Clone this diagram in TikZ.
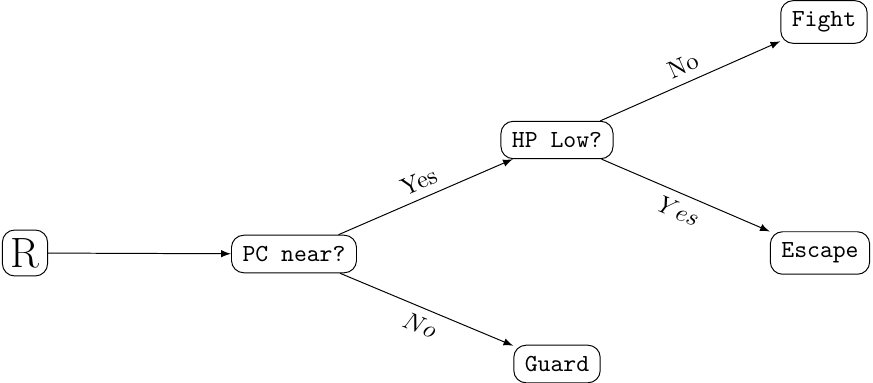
\documentclass[tikz,border=0pt]{standalone}
\usetikzlibrary{arrows}

\begin{document}
\begin{tikzpicture}[x=0.408pt, y=-0.408pt,
    state/.style={draw, rounded corners=5pt, inner sep=4.5pt, font=\ttfamily},
    edge/.style={-latex}]
        % Fix the picture size
        \useasboundingbox (0,0) rectangle (873,383);

        % Nodes of the tree
        \node[draw, rounded corners=5pt, font=\LARGE] (root) at (25,253) {R};
        \node[state] (pcnear) at (294,254) {PC near?};
        \node[state] (hplow) at (557,140) {HP Low?};
        \node[state] (fight) at (824,22) {Fight};
        \node[state] (escape) at (820,253) {Escape};
        \node[state] (guard) at (557,364) {Guard};

        % Connectors
        \draw[edge] (root) -- (pcnear);
        \draw[edge] (pcnear) -- node[above, sloped] {Yes} (hplow);
        \draw[edge] (pcnear) -- node[below, sloped] {$No$} (guard);
        \draw[edge] (hplow) -- node[above, sloped] {No} (fight);
        \draw[edge] (hplow) -- node[below, sloped] {$Yes$} (escape);

      \end{tikzpicture}
\end{document}
